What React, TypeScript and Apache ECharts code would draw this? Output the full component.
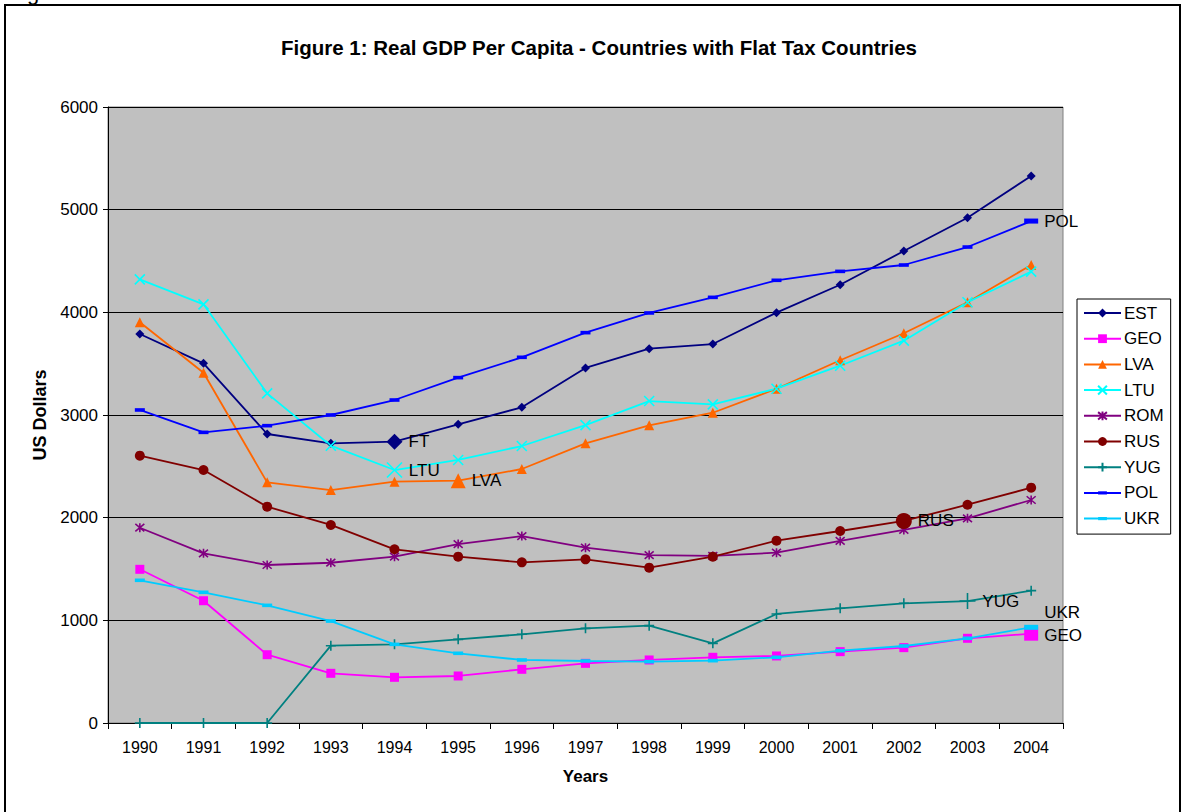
import React, { useEffect, useRef } from "react";
import * as echarts from "echarts";

const years = ["1990","1991","1992","1993","1994","1995","1996","1997","1998","1999","2000","2001","2002","2003","2004"];
const EST = [3789, 3503, 2815, 2724, 2740, 2909, 3075, 3458, 3646, 3691, 3997, 4269, 4597, 4922, 5328];
const GEO = [1497, 1191, 665, 484, 445, 458, 523, 581, 614, 640, 653, 695, 734, 825, 870];
const LVA = [3903, 3412, 2344, 2269, 2351, 2360, 2474, 2724, 2899, 3022, 3256, 3533, 3796, 4098, 4461];
const LTU = [4321, 4078, 3211, 2701, 2464, 2562, 2698, 2902, 3136, 3104, 3256, 3480, 3724, 4098, 4396];
const ROM = [1902, 1653, 1539, 1561, 1620, 1743, 1821, 1708, 1636, 1627, 1659, 1773, 1880, 1994, 2172];
const RUS = [2604, 2464, 2107, 1929, 1692, 1620, 1565, 1594, 1513, 1620, 1776, 1870, 1968, 2126, 2292];
const YUG = [0, 0, 0, 753, 766, 815, 864, 922, 948, 776, 1062, 1117, 1166, 1188, 1289];
const POL = [3049, 2831, 2896, 3000, 3146, 3364, 3562, 3802, 3994, 4146, 4312, 4399, 4461, 4636, 4889];
const UKR = [1390, 1273, 1146, 993, 766, 679, 614, 604, 597, 607, 640, 704, 750, 825, 932];

// series name -> [index of highlighted point, label text]
const callouts: Record<string, [number, string]> = {
  EST: [4, "FT"],
  LTU: [4, "LTU"],
  LVA: [5, "LVA"],
  RUS: [12, "RUS"],
  YUG: [13, "YUG"],
  POL: [14, "POL"],
  UKR: [14, "UKR"],
  GEO: [14, "GEO"],
};

const FONT = "'Liberation Sans', Arial, sans-serif";

const X_PATH = "path://M0,0L10,10M10,0L0,10";
const STAR_PATH = "path://M0,0L10,10M10,0L0,10M5,-1L5,11";
const PLUS_PATH = "path://M5,0L5,10M0,5L10,5";
const DASH_PATH = "path://M0,0M10,10M0,3.2L10,3.2L10,6.8L0,6.8Z";

type Def = {
  name: string;
  data: number[];
  color: string;
  symbol: string;
  size: number;
  big: number;
  stroke?: boolean;
  labelOffset?: number[];
};

const defs: Def[] = [
  { name: "EST", data: EST, color: "#000080", symbol: "diamond", size: 9, big: 16 },
  { name: "GEO", data: GEO, color: "#FF00FF", symbol: "rect", size: 9, big: 14, labelOffset: [0, 2] },
  { name: "LVA", data: LVA, color: "#FF6600", symbol: "triangle", size: 10, big: 15 },
  { name: "LTU", data: LTU, color: "#00FFFF", symbol: X_PATH, size: 10, big: 15, stroke: true },
  { name: "ROM", data: ROM, color: "#800080", symbol: STAR_PATH, size: 9, big: 14, stroke: true },
  { name: "RUS", data: RUS, color: "#800000", symbol: "circle", size: 10, big: 16 },
  { name: "YUG", data: YUG, color: "#008080", symbol: PLUS_PATH, size: 10, big: 16, stroke: true },
  { name: "POL", data: POL, color: "#0000FF", symbol: DASH_PATH, size: 10, big: 14 },
  { name: "UKR", data: UKR, color: "#00CCFF", symbol: DASH_PATH, size: 10, big: 14, labelOffset: [0, -15] },
];

export default function App() {
  const ref = useRef<HTMLDivElement>(null);
  useEffect(() => {
    if (!ref.current) return;
    const chart = echarts.init(ref.current, null, { renderer: "svg" });
    const series = defs.map((d) => {
      const co = callouts[d.name];
      const data = d.data.map((v, i) => {
        if (co && co[0] === i) {
          return {
            value: v,
            symbolSize: d.big,
            label: {
              show: true,
              formatter: co[1],
              position: "right",
              distance: 6,
              offset: d.labelOffset || [0, 0],
              color: "#000",
              fontFamily: FONT,
              fontSize: 17,
            },
          };
        }
        return v;
      });
      return {
        name: d.name,
        type: "line",
        data,
        symbol: d.symbol,
        symbolSize: d.size,
        showAllSymbol: true,
        color: d.color,
        lineStyle: { color: d.color, width: 1.8 },
        itemStyle: d.stroke
          ? { color: d.color, borderColor: d.color, borderWidth: 1.6 }
          : { color: d.color, borderWidth: 0 },
        emphasis: { disabled: true },
        z: 3,
      };
    });
    chart.setOption({
      animation: false,
      backgroundColor: "#FFFFFF",
      textStyle: { fontFamily: FONT },
      title: {
        text: "Figure 1: Real GDP Per Capita - Countries with Flat Tax Countries",
        left: 594,
        top: 32,
        textAlign: "center",
        textStyle: { fontFamily: FONT, fontSize: 20.5, fontWeight: "bold", color: "#000" },
      },
      legend: {
        orient: "vertical",
        left: 1077,
        top: 299,
        width: 93,
        padding: [5.5, 7, 7, 6],
        itemGap: 8.7,
        itemWidth: 37,
        itemHeight: 11,
        backgroundColor: "#FFFFFF",
        borderColor: "#000000",
        borderWidth: 1,
        borderRadius: 0,
        textStyle: { fontFamily: FONT, fontSize: 17, lineHeight: 17, color: "#000", padding: [0, 0, 0, -2] },
        data: defs.map((d) => d.name),
      },
      grid: {
        left: 108,
        right: 119,
        top: 107,
        bottom: 89,
        show: true,
        backgroundColor: "#C0C0C0",
        borderColor: "#808080",
        borderWidth: 1,
      },
      xAxis: {
        type: "category",
        data: years,
        boundaryGap: true,
        name: "Years",
        nameLocation: "middle",
        nameGap: 45,
        nameTextStyle: { fontFamily: FONT, fontSize: 17, fontWeight: "bold", color: "#000" },
        axisLine: { show: true, lineStyle: { color: "#000", width: 1 } },
        axisTick: { show: true, interval: 0, length: 6, lineStyle: { color: "#000" } },
        axisLabel: { interval: 0, margin: 16, fontFamily: FONT, fontSize: 16, color: "#000" },
        splitLine: { show: false },
      },
      yAxis: {
        type: "value",
        min: 0,
        max: 6000,
        interval: 1000,
        name: "US Dollars",
        nameLocation: "middle",
        nameRotate: 90,
        nameGap: 59,
        nameTextStyle: { fontFamily: FONT, fontSize: 18, fontWeight: "bold", color: "#000" },
        axisLine: { show: true, lineStyle: { color: "#000", width: 1 } },
        axisTick: { show: true, length: 5, lineStyle: { color: "#000" } },
        axisLabel: {
          margin: 10,
          fontFamily: FONT,
          fontSize: 17,
          color: "#000",
          formatter: (v: number) => String(v),
        },
        splitLine: { show: true, lineStyle: { color: "#000", width: 1 } },
      },
      graphic: [
        {
          type: "rect",
          shape: { x: 5, y: 5, width: 1175, height: 840 },
          style: { fill: "none", stroke: "#000", lineWidth: 2 },
          silent: true,
          z: -10,
        },
        {
          type: "text",
          x: 27,
          y: -19,
          silent: true,
          style: { text: "g", fontFamily: FONT, fontSize: 22, lineHeight: 22, fill: "#000", verticalAlign: "top" },
        },
      ],
      series,
    });
    return () => chart.dispose();
  }, []);
  return (
    <div
      ref={ref}
      style={{ position: "fixed", left: 0, top: 0, width: 1182, height: 812 }}
    />
  );
}
